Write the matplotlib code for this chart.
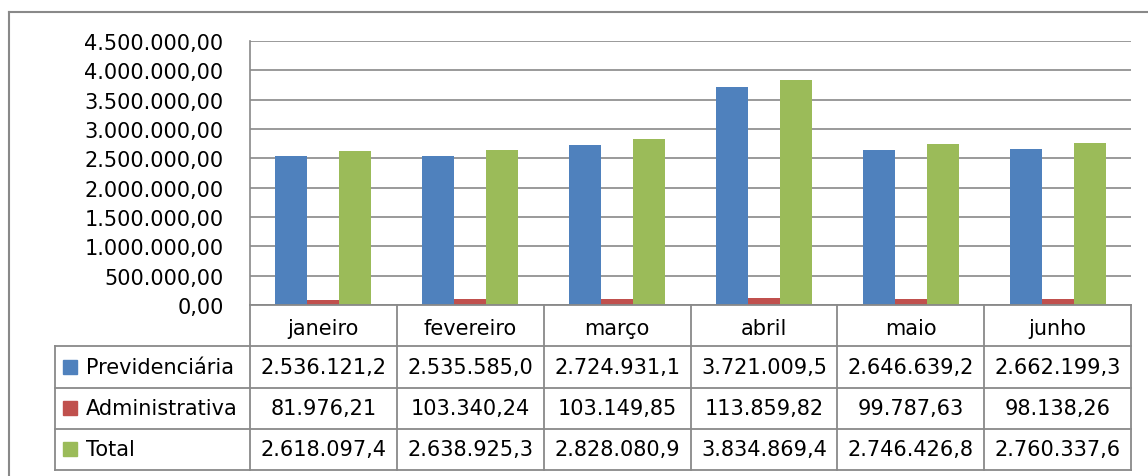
import numpy as np
import matplotlib.pyplot as plt
from matplotlib.lines import Line2D

# dados
meses = ['janeiro', 'fevereiro', 'março', 'abril', 'maio', 'junho']
previdenciaria = [2536121.2, 2535585.0, 2724931.1, 3721009.5, 2646639.2, 2662199.3]
administrativa = [81976.21, 103340.24, 103149.85, 113859.82, 99787.63, 98138.26]
total = [2618097.4, 2638925.3, 2828080.9, 3834869.4, 2746426.8, 2760337.6]
series_nomes = ['Previdenciária', 'Administrativa', 'Total']
cores = ['#4F81BD', '#C0504D', '#9BBB59']
yticks = np.arange(0, 4500001, 500000)

cinza = '#898989'
W, H = 1148, 477
fs = 15


def br(v, dec=2):
    s = f'{v:,.{dec}f}'
    return s.replace(',', '#').replace('.', ',').replace('#', '.')


def celula(v):
    # Excel corta o texto na largura da célula
    return br(v)[:11]


plt.rcParams['font.family'] = ['DejaVu Sans']
fig = plt.figure(figsize=(W / 100, H / 100), dpi=100)

# moldura externa do gráfico
fig.add_artist(Line2D([9 / W, 9 / W], [0, 1 - 13 / H], color=cinza, lw=1.5))
fig.add_artist(Line2D([9 / W, 1], [1 - 13 / H, 1 - 13 / H], color=cinza, lw=1.5))

# área das barras
x0, x1, ytop, ybot = 250, 1131, 42, 306
ax = fig.add_axes([x0 / W, 1 - ybot / H, (x1 - x0) / W, (ybot - ytop) / H])
x = np.arange(len(meses))
bw = 32 / ((x1 - x0) / len(meses))
for k, (vals, c) in enumerate(zip([previdenciaria, administrativa, total], cores)):
    ax.bar(x + (k - 1) * bw, vals, bw, color=c, zorder=3)
ax.set_xlim(-0.5, len(meses) - 0.5)
ax.set_ylim(0, 4500000)
ax.set_yticks(yticks)
ax.set_yticklabels([br(v) for v in yticks], fontsize=fs)
ax.tick_params(axis='y', length=0, pad=19)
ax.set_xticks([])
ax.grid(axis='y', color=cinza, lw=1.2, zorder=0)
for s in ['top', 'right', 'bottom']:
    ax.spines[s].set_visible(False)
ax.spines['left'].set_color(cinza)
ax.spines['left'].set_linewidth(1.2)

# tabela de dados
tb = 471
leg_w = (x0 - 55) / ((x1 - x0) / len(meses))
tab = fig.add_axes([55 / W, 1 - tb / H, (x1 - 55) / W, (tb - ybot) / H])
tab.set_xlim(-0.5 - leg_w, len(meses) - 0.5)
tab.set_ylim(4, 0)
tab.axis('off')
lk = dict(color=cinza, lw=1.3, clip_on=False)
tab.plot([-0.5, len(meses) - 0.5], [0, 0], **lk)
for r in range(1, 5):
    tab.plot([-0.5 - leg_w, len(meses) - 0.5], [r, r], **lk)
for i in range(len(meses) + 1):
    tab.plot([i - 0.5, i - 0.5], [0, 4], **lk)
tab.plot([-0.5 - leg_w] * 2, [1, 4], **lk)

for i, m in enumerate(meses):
    tab.text(i, 0.55, m, ha='center', va='center', fontsize=fs)

px = (x1 - x0) / len(meses)
for r, (nome, vals, c) in enumerate(zip(series_nomes, [previdenciaria, administrativa, total], cores)):
    yr = r + 1.5
    tab.plot([-0.5 - (x0 - 70) / px], [yr], marker='s', ms=10, color=c, ls='', clip_on=False)
    tab.text(-0.5 - (x0 - 86) / px, yr, nome, ha='left', va='center', fontsize=fs)
    for i, v in enumerate(vals):
        tab.text(i, yr, celula(v), ha='center', va='center', fontsize=fs)

fig.savefig('out.png', dpi=100)
